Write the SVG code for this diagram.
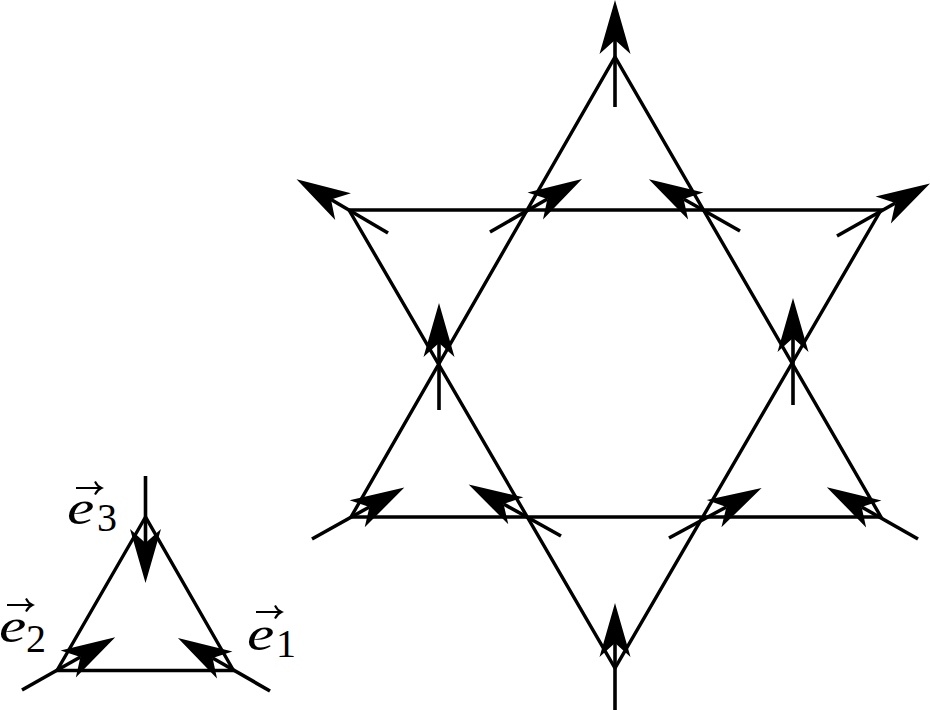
<svg xmlns="http://www.w3.org/2000/svg" width="930" height="710" viewBox="0 0 930 710">
<style>
.edge{fill:none;stroke:#000;stroke-width:3.4;stroke-linejoin:miter}
.vec{fill:none;stroke:#000;stroke-width:3.6;marker-end:url(#head)}
.e{font-family:"Liberation Serif",serif;font-style:italic;font-size:48px;fill:#000}
.n{font-family:"Liberation Serif",serif;font-size:40px;fill:#000}
.acc{fill:none;stroke:#000;stroke-width:2}
</style>
<defs>
<marker id="head" markerUnits="userSpaceOnUse" markerWidth="56" markerHeight="32" refX="14" refY="16" orient="auto" overflow="visible">
<path d="M54 16L0 .5L14 16L0 31.5Z" fill="#000"/>
</marker>
<path id="accent" class="acc" d="M0 0H24.500M19 -6.500Q21 -2 25.500 0Q21 2 19 6.500"/>
</defs>
<rect width="930" height="710" fill="#fff"/>
<g id="connectors">
<path class="edge" d="M349 210H881L615 668ZM351 517H881L615 57Z"/>
<path class="edge" d="M145.500 517L57 670.500H233.500Z"/>
<path class="vec" d="M615 107V40"/>
<path class="vec" d="M388 233L331 199.500"/>
<path class="vec" d="M490 232L547.400 199"/>
<path class="vec" d="M740 231L683.600 199"/>
<path class="vec" d="M837 236L895.400 203"/>
<path class="vec" d="M439 410V343"/>
<path class="vec" d="M793 405V338"/>
<path class="vec" d="M312 539L369.400 507"/>
<path class="vec" d="M561 536L503.600 504"/>
<path class="vec" d="M669 538L726.400 507"/>
<path class="vec" d="M918 539L861.600 507"/>
<path class="vec" d="M615 710V643"/>
<path class="vec" d="M145.500 476V543"/>
<path class="vec" d="M22 690L80.400 657"/>
<path class="vec" d="M270 691L212.600 658"/>
</g>
<g id="label-e3"><text class="e" transform="translate(67 524) scale(1.28 1)">e</text><text class="n" x="97" y="531">3</text><use href="#accent" x="76" y="488"/></g>
<g id="label-e2"><text class="e" transform="translate(-1 642) scale(1.28 1)">e</text><text class="n" x="26" y="652">2</text><use href="#accent" x="7" y="605"/></g>
<g id="label-e1"><text class="e" transform="translate(247 650) scale(1.28 1)">e</text><text class="n" x="276" y="657">1</text><use href="#accent" x="256" y="612"/></g>
</svg>
